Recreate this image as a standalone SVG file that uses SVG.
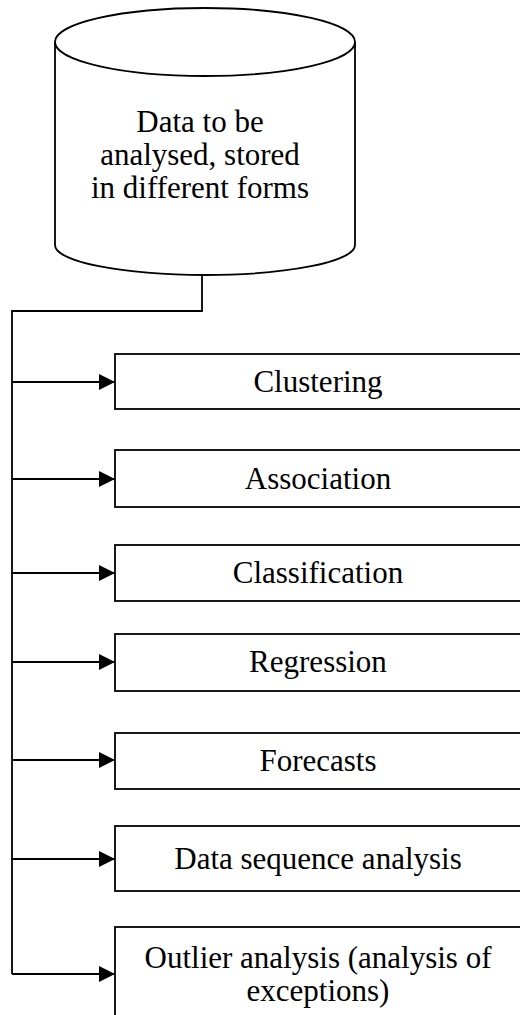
<svg xmlns="http://www.w3.org/2000/svg" width="520" height="1015" viewBox="0 0 520 1015">
<style>
.s{fill:#fff;stroke:#000;stroke-width:1.8}
.c{fill:none;stroke:#000;stroke-width:1.8}
.t{font-family:"Liberation Serif","Times New Roman",serif;font-size:31px;fill:#000;text-anchor:middle}
</style>
<defs>
<marker id="ah" viewBox="0 0 16 16" refX="16" refY="8" markerWidth="16" markerHeight="16" markerUnits="userSpaceOnUse" orient="auto">
<path d="M0,0 L16,8 L0,16 z" fill="#000"/>
</marker>
</defs>
<rect width="520" height="1015" fill="#fff"/>
<g id="store">
<path class="s" d="M55,42 L55,245 A150,30 0 0 0 355,245 L355,42"/>
<ellipse class="s" cx="205" cy="42" rx="150" ry="34"/>
<text class="t" x="200" y="132">Data to be</text>
<text class="t" x="200" y="165">analysed, stored</text>
<text class="t" x="200" y="198">in different forms</text>
</g>
<g id="n1"><rect class="s" x="115" y="354" width="420" height="55"/><text class="t" x="318" y="392">Clustering</text></g>
<g id="n2"><rect class="s" x="115" y="450" width="420" height="57"/><text class="t" x="318" y="489">Association</text></g>
<g id="n3"><rect class="s" x="115" y="545" width="420" height="56"/><text class="t" x="318" y="583">Classification</text></g>
<g id="n4"><rect class="s" x="115" y="634" width="420" height="57"/><text class="t" x="318" y="672">Regression</text></g>
<g id="n5"><rect class="s" x="115" y="733" width="420" height="56"/><text class="t" x="318" y="771">Forecasts</text></g>
<g id="n6"><rect class="s" x="115" y="826" width="420" height="65"/><text class="t" x="318" y="869">Data sequence analysis</text></g>
<g id="n7"><rect class="s" x="115" y="927" width="420" height="100"/><text class="t" x="318" y="968">Outlier analysis (analysis of</text><text class="t" x="318" y="1001">exceptions)</text></g>
<g id="connectors">
<path class="c" d="M202,275 L202,311 L12,311 L12,974"/>
<line class="c" x1="12" y1="382" x2="115" y2="382" marker-end="url(#ah)"/>
<line class="c" x1="12" y1="479" x2="115" y2="479" marker-end="url(#ah)"/>
<line class="c" x1="12" y1="573" x2="115" y2="573" marker-end="url(#ah)"/>
<line class="c" x1="12" y1="662" x2="115" y2="662" marker-end="url(#ah)"/>
<line class="c" x1="12" y1="760" x2="115" y2="760" marker-end="url(#ah)"/>
<line class="c" x1="12" y1="859" x2="115" y2="859" marker-end="url(#ah)"/>
<line class="c" x1="12" y1="974" x2="115" y2="974" marker-end="url(#ah)"/>
</g>
</svg>
